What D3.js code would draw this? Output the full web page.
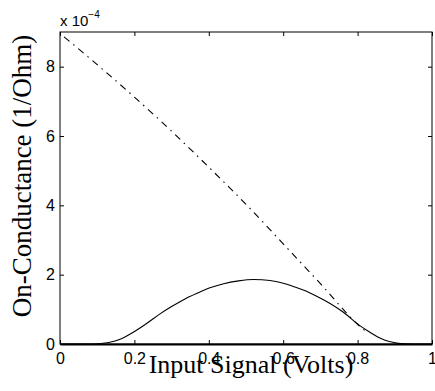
<!DOCTYPE html>
<html>
<head>
<meta charset="utf-8">
<script src="https://cdn.jsdelivr.net/npm/d3@7"></script>
<style>
  body { margin: 0; background: #fff; }
</style>
</head>
<body>
<div class="chart"></div>
<script>
// Input signal (V) and on-conductance (x 1e-4 1/Ohm)
const solidX = [0, 0.08, 0.10, 0.134, 0.16, 0.197, 0.23, 0.269, 0.30, 0.336, 0.37, 0.403, 0.44, 0.48, 0.52, 0.565, 0.60, 0.627, 0.654, 0.69, 0.726, 0.76, 0.806, 0.83, 0.86, 0.885, 0.905, 0.93, 0.95, 1.0];
const solidY = [0, 0, 0.008, 0.05, 0.13, 0.34, 0.57, 0.87, 1.08, 1.30, 1.47, 1.62, 1.74, 1.82, 1.86, 1.83, 1.75, 1.66, 1.56, 1.38, 1.17, 0.93, 0.53, 0.36, 0.17, 0.07, 0.025, 0.004, 0, 0];
const dashX = [0.011, 0.1, 0.2, 0.3, 0.4, 0.5, 0.6, 0.7, 0.8, 0.82];
const dashY = [8.86, 8.06, 7.12, 6.14, 5.10, 4.03, 2.89, 1.74, 0.57, 0.38];
const xTicks = [0, 0.2, 0.4, 0.6, 0.8, 1];
const yTicks = [0, 2, 4, 6, 8];

const width = 435, height = 391;
const margin = { left: 60, right: 3, top: 32, bottom: 47 };
const w = width - margin.left - margin.right;
const h = height - margin.top - margin.bottom;
const sans = '"Liberation Sans", Arial, Helvetica, sans-serif';
const serif = '"Liberation Serif", "Times New Roman", serif';

const svg = d3.select('.chart').append('svg')
  .attr('width', width)
  .attr('height', height);

const g = svg.append('g')
  .attr('transform', `translate(${margin.left},${margin.top})`);

const x = d3.scaleLinear().domain([0, 1]).range([0, w]);
const y = d3.scaleLinear().domain([0, 9]).range([h, 0]);

// frame
g.append('rect')
  .attr('width', w).attr('height', h)
  .attr('fill', 'none').attr('stroke', '#000').attr('stroke-width', 1);

// axes, ticks pointing inward
const fmt = d => d === 0 || d === 1 ? String(d) : d3.format('.1f')(d);
g.append('g').attr('transform', `translate(0,${h})`)
  .call(d3.axisBottom(x).tickValues(xTicks).tickFormat(fmt).tickSizeInner(-4).tickSizeOuter(0).tickPadding(9))
  .call(a => a.select('.domain').attr('stroke-width', 2));
g.append('g')
  .call(d3.axisTop(x).tickValues(xTicks).tickFormat('').tickSizeInner(-4).tickSizeOuter(0))
  .call(a => a.select('.domain').remove());
g.append('g')
  .call(d3.axisLeft(y).tickValues(yTicks).tickSizeInner(-4).tickSizeOuter(0).tickPadding(5))
  .call(a => a.select('.domain').remove());
g.append('g').attr('transform', `translate(${w},0)`)
  .call(d3.axisRight(y).tickValues(yTicks).tickFormat('').tickSizeInner(-4).tickSizeOuter(0))
  .call(a => a.select('.domain').remove());

g.selectAll('.tick line').attr('stroke', '#000');
g.selectAll('.tick text')
  .attr('fill', '#000')
  .attr('font-family', sans)
  .attr('font-size', 16);

// curves
const line = d3.line().x(d => x(d[0])).y(d => y(d[1])).curve(d3.curveMonotoneX);

g.append('path')
  .datum(d3.zip(solidX, solidY))
  .attr('d', line)
  .attr('fill', 'none').attr('stroke', '#000').attr('stroke-width', 1.1);

g.append('path')
  .datum(d3.zip(dashX, dashY))
  .attr('d', line)
  .attr('fill', 'none').attr('stroke', '#000').attr('stroke-width', 1.1)
  .attr('stroke-dasharray', '7,5,1.5,5');

// exponent label
const exp = svg.append('text')
  .attr('x', margin.left).attr('y', 26)
  .attr('font-family', sans)
  .attr('font-size', 15);
exp.append('tspan').text('x 10');
exp.append('tspan').attr('font-size', 10).attr('dy', -8).text('\u22124');

// axis titles
svg.append('text')
  .attr('x', 251).attr('y', 373)
  .attr('text-anchor', 'middle')
  .attr('font-family', serif)
  .attr('font-size', 26)
  .text('Input Signal (Volts)');

svg.append('text')
  .attr('transform', 'translate(31,176) rotate(-90)')
  .attr('text-anchor', 'middle')
  .attr('font-family', serif)
  .attr('font-size', 27)
  .text('On-Conductance (1/Ohm)');
</script>
</body>
</html>
